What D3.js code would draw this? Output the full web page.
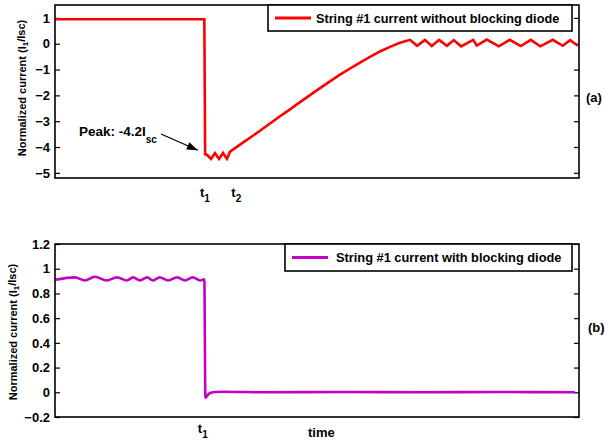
<!DOCTYPE html>
<html>
<head>
<meta charset="utf-8">
<script src="https://cdn.jsdelivr.net/npm/d3@7"></script>
<style>
  html, body { margin: 0; padding: 0; background: #fff; }
  svg { display: block; }
  text { font-family: "Liberation Sans", Arial, sans-serif; font-weight: bold; fill: #000; }
</style>
</head>
<body>
<svg id="chart" width="605" height="444"></svg>
<script>
// ---------------- DATA ----------------
// time axis is arbitrary (0..100); t1 and t2 mark events
const eventTimes = { t1: 28.6, t2: 34.6 };

// (a) String #1 current without blocking diode
const timeA = [0, 28.5, 28.65, 29.0, 29.77, 30.53, 31.3, 32.06, 32.82, 33.4,
  35.31, 37.21, 39.12, 41.03, 42.94, 44.85, 46.76, 48.66, 50.57, 52.48, 54.39, 56.3, 58.21, 60.11, 62.02, 63.93, 65.84, 67.75,
  69.1, 70.6, 71.9, 73.3, 74.8, 76.1, 77.5, 79.8, 80.5, 82.4, 84.7, 86.8, 88.9, 90.8, 92.6, 95.0, 96.9, 98.3, 99.8];
const valueA = [0.95, 0.95, -4.28, -4.3, -4.46, -4.23, -4.46, -4.23, -4.46, -4.18,
  -3.91, -3.64, -3.37, -3.09, -2.81, -2.54, -2.26, -1.99, -1.72, -1.46, -1.2, -0.96, -0.73, -0.51, -0.3, -0.12, 0.04, 0.15,
  -0.08, 0.15, -0.09, 0.15, -0.08, 0.14, -0.1, 0.15, -0.07, 0.16, -0.1, 0.15, -0.09, 0.15, -0.1, 0.15, -0.08, 0.14, -0.08];

// (b) String #1 current with blocking diode
const timeB = [0, 3.8, 5.7, 7.6, 9.9, 11.8, 13.7, 14.9, 16.2, 17.6, 18.7, 20.0, 21.6, 23.3, 24.8, 26.3, 27.7, 28.5,
  28.7, 29.4, 30.5, 32.4, 40.0, 55.0, 70.0, 85.0, 99.2];
const valueB = [0.91, 0.93, 0.905, 0.935, 0.905, 0.93, 0.905, 0.93, 0.905, 0.93, 0.905, 0.93, 0.905, 0.93, 0.905, 0.93, 0.905, 0.915,
  -0.045, -0.01, 0.002, 0.004, 0.0, 0.002, 0.0, 0.002, 0.0];

const ticksA = [-5, -4, -3, -2, -1, 0, 1];
const ticksB = [-0.2, 0, 0.2, 0.4, 0.6, 0.8, 1, 1.2];
const legendA = "String #1 current without blocking diode";
const legendB = "String #1 current with blocking diode";
const peakLabel = "Peak: -4.2I";
const peakSub = "sc";
const peakValue = -4.28;

// ---------------- DRAW ----------------
const svg = d3.select("#chart");
const left = 55, right = 579;
const x = d3.scaleLinear().domain([0, 100]).range([left, right]);

function panel(opts) {
  const g = svg.append("g");
  const y = d3.scaleLinear().domain(opts.domain).range([opts.bottom, opts.top]);

  const axL = g.append("g").attr("transform", `translate(${left},0)`)
    .call(d3.axisLeft(y).tickValues(opts.ticks).tickSizeInner(-5).tickSizeOuter(0).tickPadding(5)
      .tickFormat(opts.fmt));
  axL.select(".domain").remove();
  axL.selectAll("line").attr("stroke", "#000").attr("stroke-width", 1.2);
  axL.selectAll("text").style("font-size", "13px").style("font-family", '"Liberation Sans", Arial, sans-serif').style("font-weight", "bold");

  const axR = g.append("g").attr("transform", `translate(${right},0)`)
    .call(d3.axisRight(y).tickValues(opts.ticks).tickSizeInner(-5).tickSizeOuter(0).tickFormat(""));
  axR.select(".domain").remove();
  axR.selectAll("line").attr("stroke", "#000").attr("stroke-width", 1.2);

  const data = opts.times.map((t, i) => [t, opts.values[i]]);
  g.append("path").datum(data)
    .attr("fill", "none").attr("stroke", opts.color).attr("stroke-width", 2.6)
    .attr("stroke-linejoin", "miter")
    .attr("d", d3.line().curve(opts.curve).x(d => x(d[0])).y(d => y(d[1])));

  g.append("rect").attr("x", left).attr("y", opts.top).attr("width", right - left).attr("height", opts.bottom - opts.top)
    .attr("fill", "none").attr("stroke", "#000").attr("stroke-width", 1.6);

  const yl = g.append("text")
    .attr("transform", `translate(${opts.ylabelX},${opts.ylabelY}) rotate(-90)`)
    .attr("text-anchor", "middle").style("font-size", "11px");
  yl.append("tspan").text("Normalized current (I");
  yl.append("tspan").attr("dy", "0.3em").style("font-size", "8px").text("1");
  yl.append("tspan").attr("dy", "-0.3em").text("/Isc)");

  g.append("rect").attr("x", opts.legX).attr("y", opts.top).attr("width", 572 - opts.legX).attr("height", opts.legH)
    .attr("fill", "#fff").attr("stroke", "#000").attr("stroke-width", 1.6);
  g.append("line").attr("x1", opts.legX + 7).attr("x2", opts.legLineEnd)
    .attr("y1", opts.top + opts.legH / 2).attr("y2", opts.top + opts.legH / 2)
    .attr("stroke", opts.color).attr("stroke-width", 2.8);
  g.append("text").attr("x", opts.legTextX).attr("y", opts.top + opts.legH / 2 + 4.8)
    .style("font-size", opts.legFont + "px").text(opts.legend);

  g.append("text").attr("x", opts.tagX).attr("y", opts.tagY).style("font-size", "13px").text(opts.tag);

  return { g, y };
}

function tLabel(g, t, sub, yBase) {
  const tx = g.append("text").attr("x", x(t)).attr("y", yBase).attr("text-anchor", "middle").style("font-size", "13px");
  tx.append("tspan").text("t");
  tx.append("tspan").attr("dy", 5).style("font-size", "10px").text(sub);
}

// Panel (a)
const pa = panel({
  domain: [-5.2, 1.5], top: 5, bottom: 178, ticks: ticksA, fmt: d3.format("d"),
  times: timeA, values: valueA, color: "#ff0000", curve: d3.curveLinear,
  ylabelX: 26, ylabelY: 88,
  legX: 268, legH: 26, legLineEnd: 311, legTextX: 316, legFont: 12.7, legend: legendA,
  tag: "(a)", tagX: 586, tagY: 102
});
tLabel(pa.g, eventTimes.t1, "1", 197);
tLabel(pa.g, eventTimes.t2, "2", 197);

const pk = pa.g.append("text").attr("x", 79).attr("y", 135.5).style("font-size", "13.5px");
pk.append("tspan").text(peakLabel);
pk.append("tspan").attr("dy", 7).style("font-size", "10px").text(peakSub);

const ax1 = 161, ay1 = 134;
const ax2 = x(eventTimes.t1) - 7, ay2 = pa.y(peakValue) - 4;
pa.g.append("line").attr("x1", ax1).attr("y1", ay1).attr("x2", ax2).attr("y2", ay2)
  .attr("stroke", "#000").attr("stroke-width", 1.3);
{
  const ang = Math.atan2(ay2 - ay1, ax2 - ax1), L = 11, W = 4;
  const bx = ax2 - L * Math.cos(ang), by = ay2 - L * Math.sin(ang);
  const px = -Math.sin(ang) * W, py = Math.cos(ang) * W;
  pa.g.append("path").attr("d", `M${ax2},${ay2}L${bx + px},${by + py}L${bx - px},${by - py}Z`).attr("fill", "#000");
}

// Panel (b)
const pb = panel({
  domain: [-0.2, 1.2], top: 244, bottom: 417, ticks: ticksB, fmt: d => d === 0 ? "0" : d3.format(".1~f")(d),
  times: timeB, values: valueB, color: "#c300c3", curve: d3.curveMonotoneX,
  ylabelX: 17, ylabelY: 332,
  legX: 285, legH: 27, legLineEnd: 328, legTextX: 336, legFont: 12.8, legend: legendB,
  tag: "(b)", tagX: 588, tagY: 332
});
tLabel(pb.g, eventTimes.t1 - 0.4, "1", 433);
pb.g.append("text").attr("x", 308).attr("y", 437).style("font-size", "13px").text("time");
</script>
</body>
</html>
